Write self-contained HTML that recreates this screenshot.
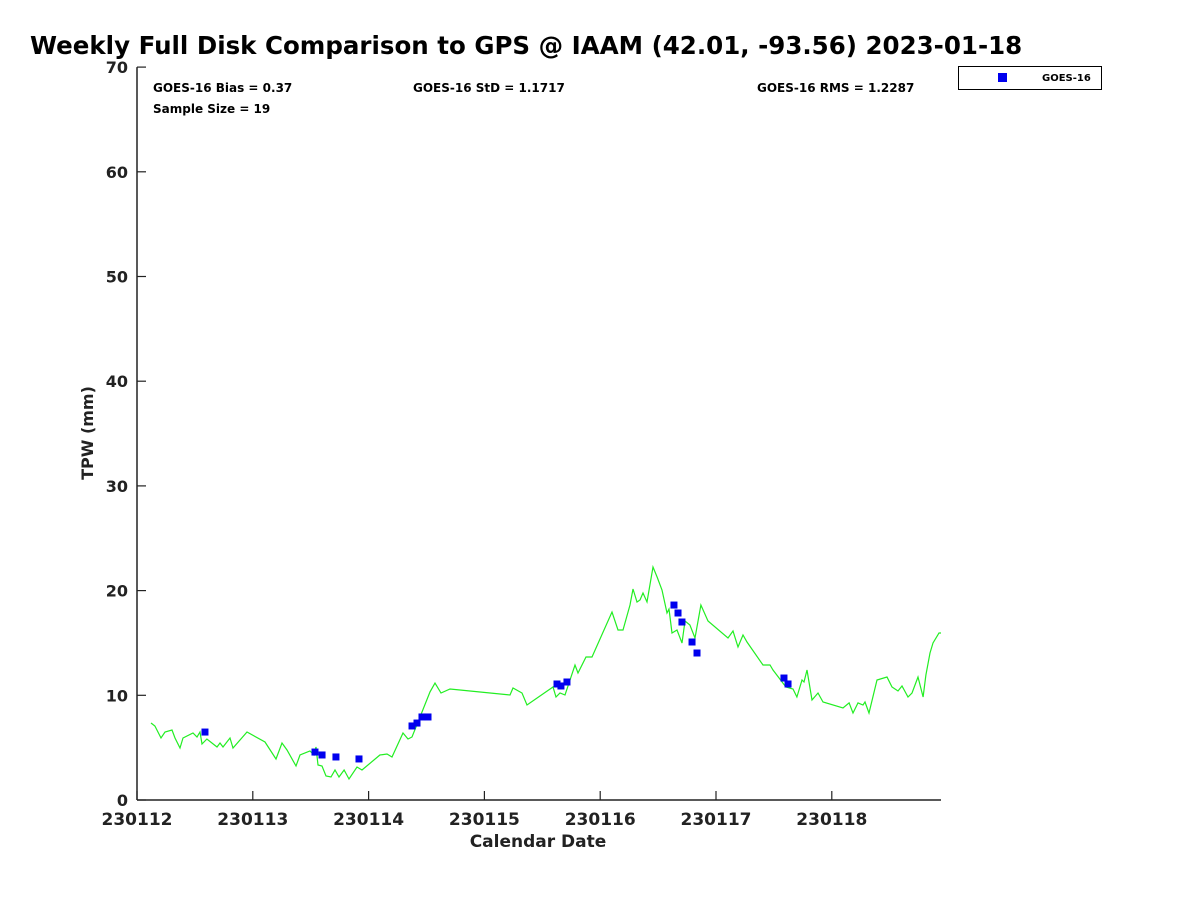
<!DOCTYPE html>
<html><head><meta charset="utf-8"><style>
body{margin:0;background:#fff;}
svg{display:block;font-family:"DejaVu Sans","Liberation Sans",sans-serif;}
</style></head><body>
<svg id="chart" width="1200" height="900" xmlns="http://www.w3.org/2000/svg">
<text x="30" y="54" font-size="24.5" font-weight="bold" fill="#000">Weekly Full Disk Comparison to GPS @ IAAM (42.01, -93.56) 2023-01-18</text>
<g id="axes"></g>
<g id="series"></g>
<text x="153" y="92" font-size="12" font-weight="bold">GOES-16 Bias = 0.37</text>
<text x="153" y="113" font-size="12" font-weight="bold">Sample Size = 19</text>
<text x="413" y="92" font-size="12" font-weight="bold">GOES-16 StD = 1.1717</text>
<text x="757" y="92" font-size="12" font-weight="bold">GOES-16 RMS = 1.2287</text>
<g>
<rect x="958.5" y="66.5" width="143" height="23" fill="#fff" stroke="#000" stroke-width="1"/>
<rect x="998" y="73" width="9" height="9" fill="#0000ee"/>
<text x="1042" y="81" font-size="10" font-weight="bold">GOES-16</text>
</g>
<text x="538" y="847" font-size="17" font-weight="bold" fill="#222" text-anchor="middle">Calendar Date</text>
<text transform="translate(93,433) rotate(-90)" font-size="16" font-weight="bold" fill="#222" text-anchor="middle">TPW (mm)</text>
</svg>
<script>
const xTickLabels=["230112","230113","230114","230115","230116","230117","230118"];
const yTicks=[0,10,20,30,40,50,60,70];
const gpsDays=[0.121,0.155,0.207,0.242,0.302,0.328,0.371,0.397,0.484,0.518,0.544,0.561,0.604,0.691,0.717,0.743,0.803,0.829,0.950,1.105,1.200,1.252,1.295,1.373,1.408,1.494,1.528,1.546,1.563,1.598,1.632,1.675,1.710,1.744,1.788,1.831,1.900,1.943,2.098,2.159,2.202,2.297,2.340,2.375,2.444,2.530,2.573,2.625,2.703,3.221,3.247,3.325,3.368,3.592,3.618,3.653,3.696,3.782,3.808,3.877,3.929,4.102,4.154,4.197,4.257,4.283,4.318,4.344,4.370,4.404,4.456,4.491,4.534,4.577,4.594,4.620,4.663,4.706,4.732,4.775,4.819,4.870,4.931,5.104,5.147,5.190,5.233,5.268,5.406,5.466,5.492,5.604,5.665,5.699,5.743,5.760,5.786,5.829,5.881,5.924,6.097,6.149,6.183,6.226,6.269,6.287,6.321,6.390,6.477,6.520,6.572,6.606,6.658,6.693,6.744,6.788,6.813,6.848,6.874,6.926,6.943];
const gpsTpw=[7.35,7.07,5.92,6.49,6.69,5.92,4.97,5.92,6.40,6.02,6.49,5.35,5.83,5.06,5.44,5.06,5.92,4.97,6.49,5.54,3.92,5.44,4.78,3.25,4.30,4.68,4.30,5.06,3.34,3.25,2.29,2.20,2.87,2.20,2.87,2.01,3.15,2.87,4.30,4.39,4.11,6.40,5.83,6.02,7.93,10.32,11.17,10.22,10.60,10.03,10.70,10.22,9.07,10.79,9.84,10.22,10.03,12.89,12.13,13.66,13.66,17.96,16.24,16.24,18.62,20.15,18.91,19.10,19.77,18.91,22.25,21.30,20.06,17.86,18.24,15.95,16.24,15.00,17.10,16.71,15.47,18.62,17.10,15.47,16.14,14.61,15.76,15.09,12.89,12.89,12.42,10.79,10.60,9.84,11.46,11.27,12.42,9.55,10.22,9.36,8.79,9.27,8.31,9.27,9.07,9.36,8.31,11.46,11.75,10.79,10.41,10.89,9.84,10.22,11.75,9.84,11.94,14.04,15.00,15.95,15.95];
const goesDays=[0.587,1.537,1.598,1.718,1.917,2.375,2.418,2.461,2.513,3.627,3.661,3.713,4.637,4.672,4.706,4.793,4.836,5.587,5.622];
const goesTpw=[6.49,4.58,4.30,4.11,3.92,7.07,7.35,7.93,7.93,11.08,10.89,11.27,18.62,17.86,17.00,15.09,14.04,11.65,11.08];

const NS="http://www.w3.org/2000/svg";
const X0=137,DAY=115.8,Y0=800,UNIT=10.47,XEND=941;
const xs=d=>X0+d*DAY, ys=v=>Y0-v*UNIT;
function mk(tag,attrs,parent){const e=document.createElementNS(NS,tag);for(const k in attrs)e.setAttribute(k,attrs[k]);parent.appendChild(e);return e;}
const axes=document.getElementById('axes'), series=document.getElementById('series');
let a=mk('line',{x1:X0,y1:ys(70),x2:X0,y2:Y0,stroke:'#222','stroke-width':1.5},axes);


a=mk('line',{x1:X0,y1:Y0,x2:XEND,y2:Y0,stroke:'#222','stroke-width':1.5},axes);


yTicks.forEach(v=>{
 const t=mk('line',{x1:X0,y1:ys(v),x2:X0+9,y2:ys(v),stroke:'#222','stroke-width':1.2},axes);
 
 
 const l=mk('text',{x:128,y:ys(v)+6,'font-size':16,'font-weight':'bold','text-anchor':'end',fill:'#222'},axes);
 l.textContent=v;
 
 
});
xTickLabels.forEach((s,i)=>{
 const t=mk('line',{x1:xs(i),y1:Y0,x2:xs(i),y2:Y0-9,stroke:'#222','stroke-width':1.2},axes);
 
 
 const l=mk('text',{x:xs(i),y:825,'font-size':17,'font-weight':'bold','text-anchor':'middle',fill:'#222'},axes);
 l.textContent=s;
 
 
});
const pts=gpsDays.map((d,i)=>xs(d).toFixed(1)+','+ys(gpsTpw[i]).toFixed(1)).join(' ');
const pl=mk('polyline',{points:pts,fill:'none',stroke:'#22ee22','stroke-width':1.2},series);


goesDays.forEach((d,i)=>{
 const r=mk('rect',{x:xs(d)-3.5,y:ys(goesTpw[i])-3.5,width:7,height:7,fill:'#0000ee'},series);
 
 
});
</script>
</body></html>
